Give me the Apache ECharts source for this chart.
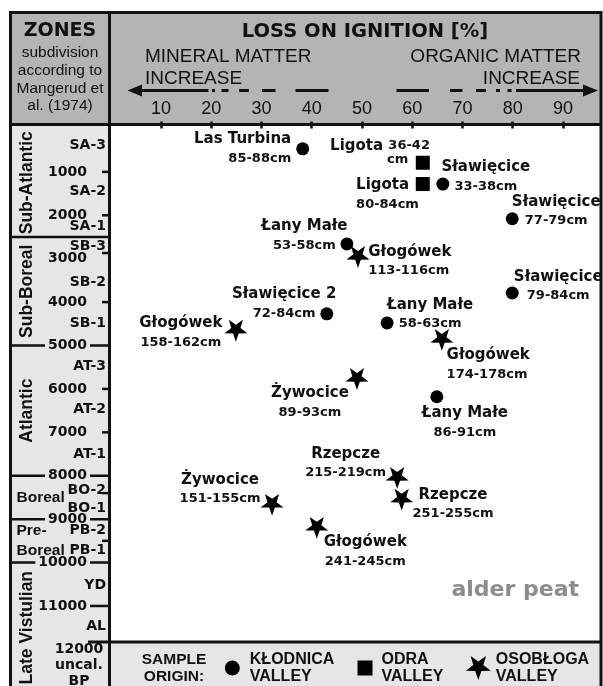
<!DOCTYPE html>
<html>
<head>
<meta charset="utf-8">
<script src="https://cdn.jsdelivr.net/npm/echarts@6/dist/echarts.min.js"></script>
<style>
  html, body { margin: 0; padding: 0; background: #fff; }
  #chart { width: 603px; height: 686px; }
</style>
</head>
<body>
<div id="chart"></div>
<script>
// dated samples: loss on ignition vs. radiocarbon age
const sites = ['Las Turbina', 'Ligota', 'Ligota', 'Sławięcice', 'Sławięcice', 'Łany Małe', 'Głogówek', 'Sławięcice', 'Sławięcice 2',
  'Łany Małe', 'Głogówek', 'Głogówek', 'Żywocice', 'Łany Małe', 'Rzepcze', 'Rzepcze', 'Żywocice', 'Głogówek'];
const depths = ['85-88cm', '36-42 cm', '80-84cm', '33-38cm', '77-79cm', '53-58cm', '113-116cm', '79-84cm', '72-84cm',
  '58-63cm', '158-162cm', '174-178cm', '89-93cm', '86-91cm', '215-219cm', '251-255cm', '151-155cm', '241-245cm'];
const loi = [38.2, 62.1, 62.1, 66.1, 79.9, 47.0, 49.2, 79.9, 43.0, 55.0, 24.9, 65.9, 49.0, 64.9, 57.0, 57.9, 32.1, 41.0];
const age = [470, 790, 1280, 1280, 2080, 2660, 2960, 3790, 4270, 4480, 4660, 4870, 5770, 6180, 8050, 8550, 8670, 9200];
// 0 = Kłodnica, 1 = Odra, 2 = Osobłoga
const origin = [0, 1, 1, 0, 0, 0, 2, 0, 0, 0, 2, 2, 2, 0, 2, 2, 2, 2];
const valleys = ['KŁODNICA VALLEY', 'ODRA VALLEY', 'OSOBŁOGA VALLEY'];

const loiTicks = [10, 20, 30, 40, 50, 60, 70, 80, 90];
const yearTicks = [1000, 2000, 3000, 4000, 5000, 6000, 7000, 8000, 9000, 10000, 11000];

// zones (Mangerud et al. 1974)
const zoneNames = ['Sub-Atlantic', 'Sub-Boreal', 'Atlantic', 'Boreal', 'Pre-\nBoreal', 'Late Vistulian'];
const zoneFrom = [0, 2500, 5000, 8000, 9000, 10000];
const zoneTo = [2500, 5000, 8000, 9000, 10000, 13000];
const subNames = ['SA-3', 'SA-2', 'SA-1', 'SB-3', 'SB-2', 'SB-1', 'AT-3', 'AT-2', 'AT-1', 'BO-2', 'BO-1', 'PB-2', 'PB-1', 'YD', 'AL'];
const subAge = [380, 1450, 2260, 2720, 3550, 4480, 5490, 6480, 7500, 8340, 8750, 9250, 9710, 10520, 11480];
const subBounds = [1000, 2000, 2870, 4000, 6000, 7000, 8400, 9500];

// label placement: [dx, dy, align, wrapped]
const labelSpec = [
  [-11.5, 0, 'right'], [-92.7, -10.5, 'left', true], [-66.7, 10.7, 'left'], [43, -7.3, 'center'],
  [44, -7.3, 'center'], [-42.5, -8.2, 'center'], [10.3, 4.2, 'left'], [46, -6.8, 'center'],
  [-42.7, -10.2, 'center'], [43, -8.8, 'center'], [-55, 2.3, 'center'], [4.7, 25.2, 'left'],
  [-47, 23.7, 'center'], [28, 26.3, 'center'], [-51.5, -14.5, 'center'], [51.3, 4.7, 'center'],
  [-52, -15.3, 'center'], [48.5, 24.2, 'center']
];

const AGE_MIN = -80, AGE_MAX = 11830;
const STAR = 'path://M50 100 L38.24 66.18 L2.45 65.45 L30.98 43.82 L20.61 9.55 L50 30 L79.39 9.55 L69.02 43.82 L97.55 65.45 L61.76 66.18 Z';
const symbols = ['circle', 'rect', STAR];
const symSizes = [13, 14, 23];
const INK = '#111';
const DV = 'DejaVu Sans', LS = 'Liberation Sans';

const lbl = (size, lh) => ({ fontFamily: DV, fontWeight: 'bold', fontSize: size, lineHeight: lh, color: INK });
const rich = { n: lbl(15, 19), d: lbl(13, 19) };
const richWrap = { n: lbl(15, 15), d: lbl(13, 15), c: Object.assign(lbl(13, 13), { padding: [0, 0, 0, 57] }) };

function makeLabel(i) {
  const [dx, dy, align, wrap] = labelSpec[i];
  let text;
  if (wrap) {
    const parts = depths[i].split(' ');
    text = '{n|' + sites[i] + ' }{d|' + parts[0] + '}\n{c|' + parts[1] + '}';
  } else {
    text = '{n|' + sites[i] + '}\n{d|' + depths[i] + '}';
  }
  return {
    show: true, position: 'inside', offset: [dx, dy], align: align, verticalAlign: 'middle',
    formatter: () => text, rich: wrap ? richWrap : rich
  };
}

const chart = echarts.init(document.getElementById('chart'));

const series = valleys.map((v, k) => ({
  name: v,
  type: 'scatter',
  symbol: symbols[k],
  symbolSize: symSizes[k],
  symbolKeepAspect: true,
  itemStyle: { color: '#000', opacity: 1 },
  emphasis: { disabled: true },
  z: 3,
  data: age.map((a, i) => i).filter(i => origin[i] === k)
    .map(i => ({ value: [loi[i], age[i]], label: makeLabel(i) }))
}));

const legendLeft = [224.8, 357.5, 465.8];
const legendIcon = [15, 15, 25];
const legendPad = [5, 4, 0];

const option = {
  animation: false,
  grid: { left: 110.75, top: 125, width: 487.4, height: 517 },
  xAxis: {
    type: 'value', position: 'top', min: 0, max: 97,
    axisLine: { show: false },
    splitLine: { show: false },
    axisTick: { show: true, length: 7, customValues: loiTicks, lineStyle: { color: INK, width: 2.5 } },
    axisLabel: { customValues: loiTicks, margin: 7, fontFamily: LS, fontSize: 18, color: INK }
  },
  yAxis: {
    type: 'value', inverse: true, min: AGE_MIN, max: AGE_MAX, show: false
  },
  legend: valleys.map((v, k) => ({
    data: [v], left: legendLeft[k], top: 651, padding: 0,
    itemWidth: legendIcon[k], itemHeight: legendIcon[k], selectedMode: false,
    formatter: n => n.replace(' ', '\n'),
    textStyle: { fontFamily: LS, fontWeight: 'bold', fontSize: 16, lineHeight: 17, color: INK, padding: [0, 0, 0, legendPad[k]] }
  })),
  series: series
};

chart.setOption(option);

// frame, header and zone column built on the age axis
const py = a => chart.convertToPixel({ yAxisIndex: 0 }, a);
const els = [];
const rect = (x, y, w, h, fill) => els.push({ type: 'rect', z: -1, silent: true, shape: { x, y, width: w, height: h }, style: { fill } });
const line = (x1, y1, x2, y2, w) => els.push({ type: 'line', z: 1, silent: true, shape: { x1, y1, x2, y2 }, style: { stroke: INK, lineWidth: w || 3 } });
const text = (x, y, t, st, extra) => els.push(Object.assign({
  type: 'text', z: 2, silent: true, x, y,
  style: Object.assign({ text: t, fill: INK, align: 'left', verticalAlign: 'middle' }, st)
}, extra || {}));

const yTop = 124.5, yBot = py(AGE_MAX);
rect(10, 12, 591, yTop - 12, '#b4b4b4');
rect(10, yTop, 100, 686 - yTop, '#e6e6e6');
rect(110, yBot, 491, 686 - yBot, '#e6e6e6');

// left header
text(60, 31, 'ZONES', { fontFamily: DV, fontWeight: 'bold', fontSize: 19, align: 'center' });
['subdivision', 'according to', 'Mangerud et', 'al. (1974)'].forEach((t, i) =>
  text(60, 53 + i * 17.7, t, { fontFamily: LS, fontSize: 15.5, align: 'center' }));

// right header
text(365, 32, 'LOSS ON IGNITION [%]', { fontFamily: DV, fontWeight: 'bold', fontSize: 19.5, align: 'center' });
text(145, 57, 'MINERAL MATTER', { fontFamily: LS, fontSize: 19 });
text(145, 78.5, 'INCREASE', { fontFamily: LS, fontSize: 19 });
text(581, 57, 'ORGANIC MATTER', { fontFamily: LS, fontSize: 19, align: 'right' });
text(580, 78.5, 'INCREASE', { fontFamily: LS, fontSize: 19, align: 'right' });

const arrowY = 90.5;
const dashes = [[140, 208.5], [212, 215], [221.5, 228.5], [239, 249], [262, 275.5], [295.5, 328.5],
  [396.5, 429], [450, 462.5], [476, 486], [496, 500], [507.5, 511.5], [516, 584]];
dashes.forEach(d => line(d[0], arrowY, d[1], arrowY, 3));
els.push({ type: 'polygon', z: 1, silent: true, shape: { points: [[127.5, arrowY], [142, arrowY - 6], [142, arrowY + 6]] }, style: { fill: INK } });
els.push({ type: 'polygon', z: 1, silent: true, shape: { points: [[598, arrowY], [583, arrowY - 6], [583, arrowY + 6]] }, style: { fill: INK } });

// zone boundaries and sub-zone ticks
[2500, 5000, 8000, 9000, 10000].forEach(a => line(10, py(a), 110, py(a), 2.5));
line(88, py(11000), 110, py(11000), 2.5);
subBounds.forEach(a => line(102, py(a), 110, py(a), 2.5));

const knock = [5000, 8000, 9000, 10000, 11000];
yearTicks.forEach(a => text(90, py(a), String(a), {
  fontFamily: DV, fontWeight: 'bold', fontSize: 14, align: 'right', padding: [0, 3],
  backgroundColor: knock.indexOf(a) >= 0 ? '#e6e6e6' : null
}));
text(79, py(12000) - 8, '12000\nuncal.\nBP', { fontFamily: DV, fontWeight: 'bold', fontSize: 14, lineHeight: 16, align: 'center', verticalAlign: 'top' });

subNames.forEach((s, i) => text(106, py(subAge[i]), s, { fontFamily: DV, fontWeight: 'bold', fontSize: 14, align: 'right' }));

zoneNames.forEach((z, i) => {
  const mid = (py(zoneFrom[i]) + py(zoneTo[i])) / 2;
  if (zoneTo[i] - zoneFrom[i] > 1500) {
    text(27, mid, z, { fontFamily: LS, fontWeight: 'bold', fontSize: 17.5, align: 'center' }, { rotation: Math.PI / 2 });
  } else {
    text(16.5, mid, z, { fontFamily: LS, fontWeight: 'bold', fontSize: 15.5, lineHeight: 20 });
  }
});

// frame
els.push({ type: 'rect', z: 1, silent: true, shape: { x: 10.5, y: 12.5, width: 590.5, height: 690 }, style: { fill: 'none', stroke: INK, lineWidth: 3 } });
line(109.5, 12, 109.5, 686, 3);
line(10, yTop, 601, yTop, 3);
line(88, yBot, 601, yBot, 3);

// legend caption and annotation
text(174, 668.5, 'SAMPLE\nORIGIN:', { fontFamily: LS, fontWeight: 'bold', fontSize: 15.5, lineHeight: 17, align: 'center' });
text(579, 590, 'alder peat', { fontFamily: DV, fontWeight: 'bold', fontSize: 22, align: 'right', fill: '#8c8c8c' });

chart.setOption({ graphic: { elements: els } });
</script>
</body>
</html>
